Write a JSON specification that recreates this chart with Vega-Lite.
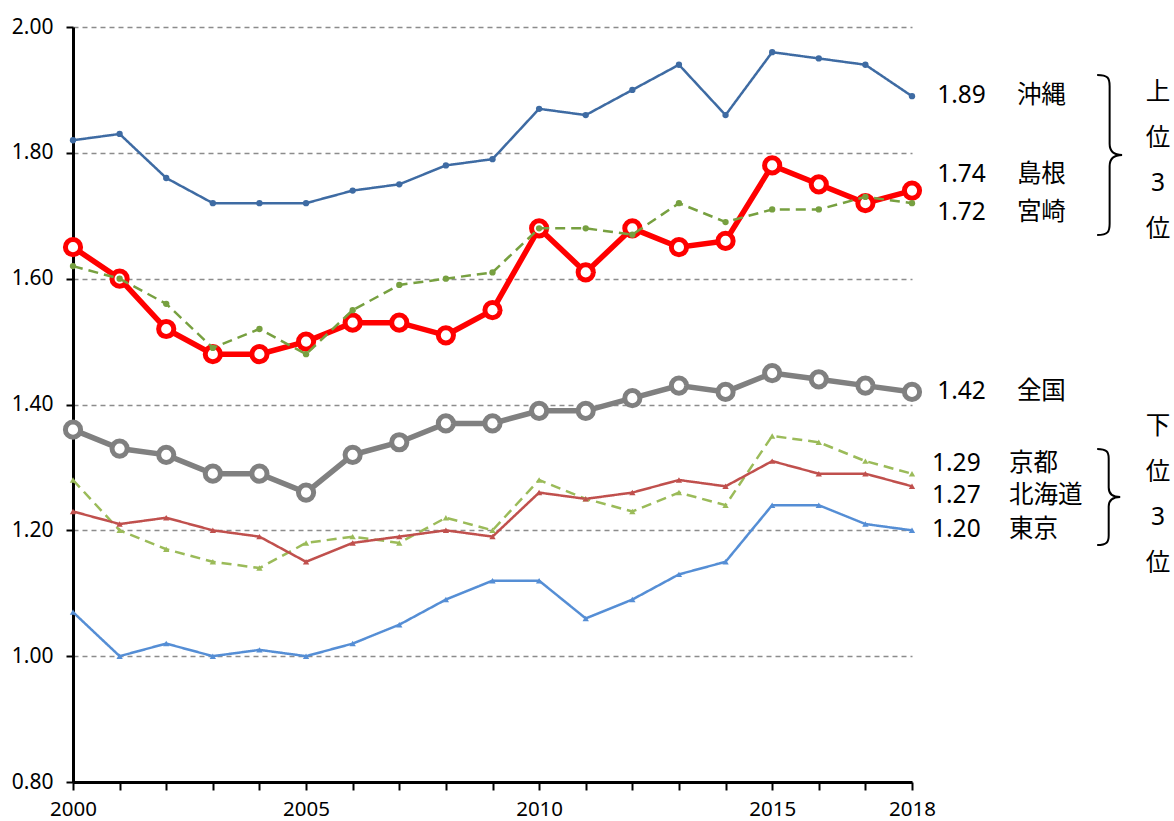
{
  "$schema": "https://vega.github.io/schema/vega-lite/v6.json",
  "width": 839,
  "height": 755,
  "autosize": "none",
  "padding": {"left": 73, "top": 27, "right": 262, "bottom": 39},
  "background": "white",
  "config": {
    "view": {"stroke": null},
    "font": "Noto Sans, Noto Sans CJK JP"
  },
  "datasets": {
    "main": [
      {"pref":"沖縄","year":2000,"v":1.82},{"pref":"沖縄","year":2001,"v":1.83},{"pref":"沖縄","year":2002,"v":1.76},{"pref":"沖縄","year":2003,"v":1.72},{"pref":"沖縄","year":2004,"v":1.72},{"pref":"沖縄","year":2005,"v":1.72},{"pref":"沖縄","year":2006,"v":1.74},{"pref":"沖縄","year":2007,"v":1.75},{"pref":"沖縄","year":2008,"v":1.78},{"pref":"沖縄","year":2009,"v":1.79},{"pref":"沖縄","year":2010,"v":1.87},{"pref":"沖縄","year":2011,"v":1.86},{"pref":"沖縄","year":2012,"v":1.90},{"pref":"沖縄","year":2013,"v":1.94},{"pref":"沖縄","year":2014,"v":1.86},{"pref":"沖縄","year":2015,"v":1.96},{"pref":"沖縄","year":2016,"v":1.95},{"pref":"沖縄","year":2017,"v":1.94},{"pref":"沖縄","year":2018,"v":1.89},
      {"pref":"島根","year":2000,"v":1.65},{"pref":"島根","year":2001,"v":1.60},{"pref":"島根","year":2002,"v":1.52},{"pref":"島根","year":2003,"v":1.48},{"pref":"島根","year":2004,"v":1.48},{"pref":"島根","year":2005,"v":1.50},{"pref":"島根","year":2006,"v":1.53},{"pref":"島根","year":2007,"v":1.53},{"pref":"島根","year":2008,"v":1.51},{"pref":"島根","year":2009,"v":1.55},{"pref":"島根","year":2010,"v":1.68},{"pref":"島根","year":2011,"v":1.61},{"pref":"島根","year":2012,"v":1.68},{"pref":"島根","year":2013,"v":1.65},{"pref":"島根","year":2014,"v":1.66},{"pref":"島根","year":2015,"v":1.78},{"pref":"島根","year":2016,"v":1.75},{"pref":"島根","year":2017,"v":1.72},{"pref":"島根","year":2018,"v":1.74},
      {"pref":"宮崎","year":2000,"v":1.62},{"pref":"宮崎","year":2001,"v":1.60},{"pref":"宮崎","year":2002,"v":1.56},{"pref":"宮崎","year":2003,"v":1.49},{"pref":"宮崎","year":2004,"v":1.52},{"pref":"宮崎","year":2005,"v":1.48},{"pref":"宮崎","year":2006,"v":1.55},{"pref":"宮崎","year":2007,"v":1.59},{"pref":"宮崎","year":2008,"v":1.60},{"pref":"宮崎","year":2009,"v":1.61},{"pref":"宮崎","year":2010,"v":1.68},{"pref":"宮崎","year":2011,"v":1.68},{"pref":"宮崎","year":2012,"v":1.67},{"pref":"宮崎","year":2013,"v":1.72},{"pref":"宮崎","year":2014,"v":1.69},{"pref":"宮崎","year":2015,"v":1.71},{"pref":"宮崎","year":2016,"v":1.71},{"pref":"宮崎","year":2017,"v":1.73},{"pref":"宮崎","year":2018,"v":1.72},
      {"pref":"全国","year":2000,"v":1.36},{"pref":"全国","year":2001,"v":1.33},{"pref":"全国","year":2002,"v":1.32},{"pref":"全国","year":2003,"v":1.29},{"pref":"全国","year":2004,"v":1.29},{"pref":"全国","year":2005,"v":1.26},{"pref":"全国","year":2006,"v":1.32},{"pref":"全国","year":2007,"v":1.34},{"pref":"全国","year":2008,"v":1.37},{"pref":"全国","year":2009,"v":1.37},{"pref":"全国","year":2010,"v":1.39},{"pref":"全国","year":2011,"v":1.39},{"pref":"全国","year":2012,"v":1.41},{"pref":"全国","year":2013,"v":1.43},{"pref":"全国","year":2014,"v":1.42},{"pref":"全国","year":2015,"v":1.45},{"pref":"全国","year":2016,"v":1.44},{"pref":"全国","year":2017,"v":1.43},{"pref":"全国","year":2018,"v":1.42},
      {"pref":"京都","year":2000,"v":1.28},{"pref":"京都","year":2001,"v":1.20},{"pref":"京都","year":2002,"v":1.17},{"pref":"京都","year":2003,"v":1.15},{"pref":"京都","year":2004,"v":1.14},{"pref":"京都","year":2005,"v":1.18},{"pref":"京都","year":2006,"v":1.19},{"pref":"京都","year":2007,"v":1.18},{"pref":"京都","year":2008,"v":1.22},{"pref":"京都","year":2009,"v":1.20},{"pref":"京都","year":2010,"v":1.28},{"pref":"京都","year":2011,"v":1.25},{"pref":"京都","year":2012,"v":1.23},{"pref":"京都","year":2013,"v":1.26},{"pref":"京都","year":2014,"v":1.24},{"pref":"京都","year":2015,"v":1.35},{"pref":"京都","year":2016,"v":1.34},{"pref":"京都","year":2017,"v":1.31},{"pref":"京都","year":2018,"v":1.29},
      {"pref":"北海道","year":2000,"v":1.23},{"pref":"北海道","year":2001,"v":1.21},{"pref":"北海道","year":2002,"v":1.22},{"pref":"北海道","year":2003,"v":1.20},{"pref":"北海道","year":2004,"v":1.19},{"pref":"北海道","year":2005,"v":1.15},{"pref":"北海道","year":2006,"v":1.18},{"pref":"北海道","year":2007,"v":1.19},{"pref":"北海道","year":2008,"v":1.20},{"pref":"北海道","year":2009,"v":1.19},{"pref":"北海道","year":2010,"v":1.26},{"pref":"北海道","year":2011,"v":1.25},{"pref":"北海道","year":2012,"v":1.26},{"pref":"北海道","year":2013,"v":1.28},{"pref":"北海道","year":2014,"v":1.27},{"pref":"北海道","year":2015,"v":1.31},{"pref":"北海道","year":2016,"v":1.29},{"pref":"北海道","year":2017,"v":1.29},{"pref":"北海道","year":2018,"v":1.27},
      {"pref":"東京","year":2000,"v":1.07},{"pref":"東京","year":2001,"v":1.00},{"pref":"東京","year":2002,"v":1.02},{"pref":"東京","year":2003,"v":1.00},{"pref":"東京","year":2004,"v":1.01},{"pref":"東京","year":2005,"v":1.00},{"pref":"東京","year":2006,"v":1.02},{"pref":"東京","year":2007,"v":1.05},{"pref":"東京","year":2008,"v":1.09},{"pref":"東京","year":2009,"v":1.12},{"pref":"東京","year":2010,"v":1.12},{"pref":"東京","year":2011,"v":1.06},{"pref":"東京","year":2012,"v":1.09},{"pref":"東京","year":2013,"v":1.13},{"pref":"東京","year":2014,"v":1.15},{"pref":"東京","year":2015,"v":1.24},{"pref":"東京","year":2016,"v":1.24},{"pref":"東京","year":2017,"v":1.21},{"pref":"東京","year":2018,"v":1.20}
    ],
    "ann": [
      {"year":2018.54,"v":1.890,"label":"1.89"},{"year":2020.25,"v":1.890,"label":"沖縄"},
      {"year":2018.54,"v":1.765,"label":"1.74"},{"year":2020.25,"v":1.765,"label":"島根"},
      {"year":2018.54,"v":1.704,"label":"1.72"},{"year":2020.25,"v":1.704,"label":"宮崎"},
      {"year":2018.54,"v":1.420,"label":"1.42"},{"year":2020.25,"v":1.420,"label":"全国"},
      {"year":2018.43,"v":1.306,"label":"1.29"},{"year":2020.08,"v":1.306,"label":"京都"},
      {"year":2018.43,"v":1.255,"label":"1.27"},{"year":2020.08,"v":1.255,"label":"北海道"},
      {"year":2018.43,"v":1.200,"label":"1.20"},{"year":2020.08,"v":1.200,"label":"東京"}
    ],
    "vert": [
      {"year":2023.28,"v":1.895,"label":"上\n位\n3\n位"},
      {"year":2023.28,"v":1.364,"label":"下\n位\n3\n位"}
    ],
    "brace1": [{"year":2022.24,"v":1.7966}],
    "brace2": [{"year":2022.22,"v":1.2530}]
  },
  "layer": [
    {
      "data": {"name": "main"},
      "transform": [{"filter": "datum.pref == '全国' || datum.pref == '島根'"}],
      "mark": {"type": "line", "strokeWidth": 5.5},
      "encoding": {
        "x": {
          "field": "year", "type": "quantitative",
          "scale": {"domain": [2000, 2018], "nice": false, "zero": false},
          "axis": {
            "title": null,
            "values": [2000,2001,2002,2003,2004,2005,2006,2007,2008,2009,2010,2011,2012,2013,2014,2015,2016,2017,2018],
            "format": "d",
            "labelExpr": "(datum.value % 5 == 0 || datum.value == 2018) ? datum.label : ''",
            "labelOverlap": false, "labelFlush": false,
            "labelFont": "Noto Sans", "labelFontSize": 20.5, "labelColor": "black", "labelPadding": 9,
            "grid": false, "domainColor": "black", "domainWidth": 3, "tickColor": "black", "tickWidth": 2, "tickSize": 8
          }
        },
        "y": {
          "field": "v", "type": "quantitative",
          "scale": {"domain": [0.8, 2.0], "nice": false, "zero": false},
          "axis": {
            "title": null,
            "values": [0.8, 1.0, 1.2, 1.4, 1.6, 1.8, 2.0],
            "format": ".2f",
            "labelFont": "Noto Sans", "labelFontSize": 21, "labelColor": "black", "labelPadding": 13,
            "grid": true, "gridDash": [5, 4], "gridColor": "#8c8c8c", "gridWidth": 1.3,
            "domainColor": "black", "domainWidth": 3, "tickColor": "black", "tickWidth": 2, "tickSize": 7
          }
        },
        "color": {"field": "pref", "type": "nominal", "legend": null,
          "scale": {"domain": ["沖縄","島根","宮崎","全国","京都","北海道","東京"], "range": ["#3e6ba3","#ff0000","#77a040","#808080","#9bbb59","#c0504d","#558ed5"]}}
      }
    },
    {
      "data": {"name": "main"},
      "transform": [{"filter": "datum.pref == '全国' || datum.pref == '島根'"}],
      "mark": {"type": "point", "filled": true, "fill": "white", "strokeWidth": 5, "size": 230, "opacity": 1, "shape": "circle"},
      "encoding": {
        "x": {"field": "year", "type": "quantitative"},
        "y": {"field": "v", "type": "quantitative"},
        "stroke": {"field": "pref", "type": "nominal", "legend": null,
          "scale": {"domain": ["沖縄","島根","宮崎","全国","京都","北海道","東京"], "range": ["#3e6ba3","#ff0000","#77a040","#808080","#9bbb59","#c0504d","#558ed5"]}}
      }
    },
    {
      "data": {"name": "main"},
      "transform": [{"filter": "datum.pref != '全国' && datum.pref != '島根'"}],
      "mark": {"type": "line"},
      "encoding": {
        "x": {"field": "year", "type": "quantitative"},
        "y": {"field": "v", "type": "quantitative"},
        "color": {"field": "pref", "type": "nominal", "legend": null,
          "scale": {"domain": ["沖縄","島根","宮崎","全国","京都","北海道","東京"], "range": ["#3e6ba3","#ff0000","#77a040","#808080","#9bbb59","#c0504d","#558ed5"]}},
        "strokeDash": {"field": "pref", "type": "nominal", "legend": null,
          "scale": {"domain": ["沖縄","宮崎","京都","北海道","東京"], "range": [[1,0],[10,6],[10,6],[1,0],[1,0]]}},
        "size": {"field": "pref", "type": "nominal", "legend": null,
          "scale": {"domain": ["沖縄","宮崎","京都","北海道","東京"], "range": [2.5,2.5,2.5,2,2.5]}}
      }
    },
    {
      "data": {"name": "main"},
      "transform": [{"filter": "datum.pref != '全国' && datum.pref != '島根'"}],
      "mark": {"type": "point", "filled": true, "size": 40, "opacity": 1},
      "encoding": {
        "x": {"field": "year", "type": "quantitative"},
        "y": {"field": "v", "type": "quantitative"},
        "color": {"field": "pref", "type": "nominal", "legend": null,
          "scale": {"domain": ["沖縄","島根","宮崎","全国","京都","北海道","東京"], "range": ["#3e6ba3","#ff0000","#77a040","#808080","#9bbb59","#c0504d","#558ed5"]}},
        "shape": {"field": "pref", "type": "nominal", "legend": null,
          "scale": {"domain": ["沖縄","宮崎","京都","北海道","東京"], "range": ["circle","circle","triangle-up","triangle-up","triangle-up"]}}
      }
    },
    {
      "data": {"name": "ann"},
      "mark": {"type": "text", "align": "left", "baseline": "middle", "fontSize": 24.5, "color": "black"},
      "encoding": {
        "x": {"field": "year", "type": "quantitative"},
        "y": {"field": "v", "type": "quantitative"},
        "text": {"field": "label", "type": "nominal"}
      }
    },
    {
      "data": {"name": "vert"},
      "mark": {"type": "text", "align": "center", "baseline": "middle", "fontSize": 24.5, "color": "black", "lineBreak": "\n", "lineHeight": 45.5},
      "encoding": {
        "x": {"field": "year", "type": "quantitative"},
        "y": {"field": "v", "type": "quantitative"},
        "text": {"field": "label", "type": "nominal"}
      }
    },
    {
      "data": {"name": "brace1"},
      "mark": {"type": "point", "filled": false, "stroke": "black", "strokeWidth": 2, "opacity": 1, "size": 25600,
        "shape": "M-0.156,-1 C-0.02,-1 0,-0.96 0,-0.86 L0,-0.14 C0,-0.05 0.05,0 0.156,0 C0.05,0 0,0.05 0,0.14 L0,0.86 C0,0.96 -0.02,1 -0.156,1"},
      "encoding": {
        "x": {"field": "year", "type": "quantitative"},
        "y": {"field": "v", "type": "quantitative"}
      }
    },
    {
      "data": {"name": "brace2"},
      "mark": {"type": "point", "filled": false, "stroke": "black", "strokeWidth": 2, "opacity": 1, "size": 9216,
        "shape": "M-0.24,-1 C-0.04,-1 0,-0.94 0,-0.8 L0,-0.2 C0,-0.08 0.08,0 0.24,0 C0.08,0 0,0.08 0,0.2 L0,0.8 C0,0.94 -0.04,1 -0.24,1"},
      "encoding": {
        "x": {"field": "year", "type": "quantitative"},
        "y": {"field": "v", "type": "quantitative"}
      }
    }
  ]
}
